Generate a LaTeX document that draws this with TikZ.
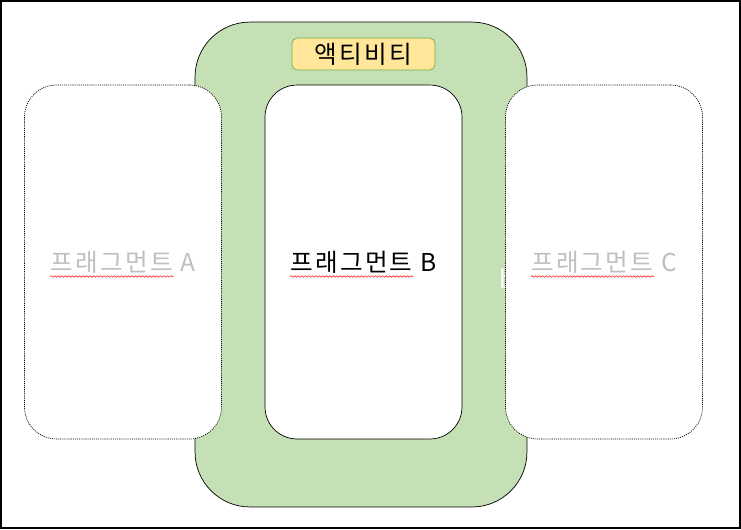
\documentclass[tikz,border=0pt]{standalone}
\usepackage{fontspec}
\newfontfamily\kr[LetterSpace=9]{Noto Sans CJK KR}
\usetikzlibrary{decorations.pathmorphing}

\definecolor{actfill}{HTML}{C5E0B4}
\definecolor{tagfill}{HTML}{FFE699}
\definecolor{tagline}{HTML}{70AD47}
\definecolor{faded}{HTML}{BFBFBF}

\begin{document}
\begin{tikzpicture}[x=0.02cm, y=-0.02cm,
    every node/.style={font=\kr\fontsize{14}{16}\selectfont},
    frame/.style={draw, line width=1.1pt},
    actbox/.style={draw, fill=actfill, rounded corners=1.1cm,
      minimum width=6.64cm, minimum height=9.7cm, inner sep=0},
    acttag/.style={draw=tagline, fill=tagfill, rounded corners=3pt,
      minimum width=2.86cm, minimum height=0.64cm, inner sep=0},
    fragbox/.style={draw, fill=white, rounded corners=0.64cm,
      minimum width=3.94cm, minimum height=7.08cm, inner sep=0},
    faintbox/.style={fragbox, draw=black, dash pattern=on 0.6pt off 0.6pt},
    fragname/.style={inner sep=0},
    spell/.style={draw=red!85, line width=0.35pt,
      decorate, decoration={snake, segment length=2pt, amplitude=0.45pt}}]

      \useasboundingbox (0,0) rectangle (741,529);
      \draw[frame] (1,1) rectangle (740,528);

      % Activity (outer)
      \node[actbox] (activity) at (361,264.5) {};
      \node[acttag] (acttitle) at (363.5,54) {액티비티};
      \node[fragname, white, anchor=base west] (stray) at (499,288) {b};

      % Fragments (inner)
      \node[fragbox] (fragB) at (363.5,262) {};
      \node[faintbox] (fragA) at (123,262) {};
      \node[faintbox] (fragC) at (604,262) {};

      \node[fragname, faded] (nameA) at (fragA) {프래그먼트 A};
      \node[fragname] (nameB) at (fragB) {프래그먼트 B};
      \node[fragname, faded] (nameC) at (fragC) {프래그먼트 C};

      % Spell-check marks
      \foreach \n in {nameA,nameB,nameC}
        \draw[spell] ([yshift=-3pt]\n.base west) -- ++(70pt,0);
    \end{tikzpicture}
\end{document}
